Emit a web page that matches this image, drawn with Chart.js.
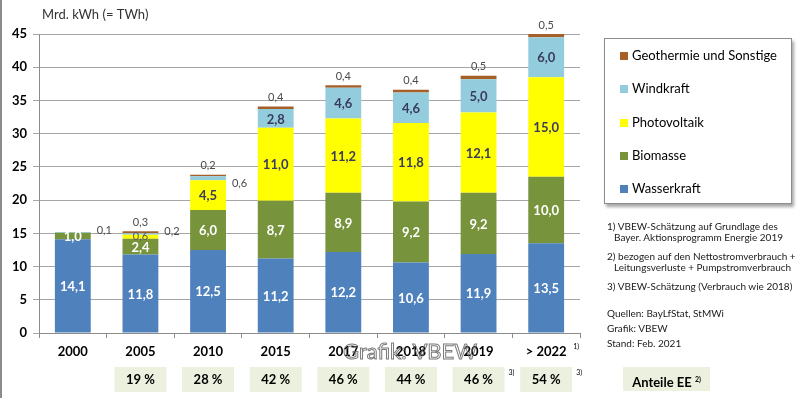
<!DOCTYPE html>
<html>
<head>
<meta charset="utf-8">
<script src="https://cdn.jsdelivr.net/npm/chart.js@4"></script>
<style>
  html, body { margin: 0; padding: 0; background: #fff; }
  body { width: 800px; height: 398px; position: relative; overflow: hidden; font-family: Lato, "Noto Sans", sans-serif; }
  #wrap { position: absolute; left: 0; top: 0; width: 800px; height: 398px; }
  #frame { position: absolute; left: 0; top: 0; width: 2px; height: 398px; background: #8c8c8c; }
  #legend { position: absolute; left: 604px; top: 38px; width: 186px; height: 164px; border: 1px solid #8c8c8c;
    box-shadow: 2px 3px 3px rgba(0,0,0,0.35); background: #fff; }
  #legend .item { position: absolute; left: 15px; font-size: 13px; color: #000; white-space: nowrap; }
  #legend .sw { display: inline-block; width: 8px; height: 8px; margin-right: 4px; vertical-align: 0px; }
  .note { position: absolute; left: 607px; font-size: 10px; color: #1a1a1a; white-space: nowrap; line-height: 12px; }
  .note.ind { left: 614px; }
  #ee { position: absolute; left: 623px; top: 367px; width: 87px; height: 24px; background: #ebf1de;
    font-weight: bold; font-size: 13px; line-height: 24px; text-align: center; }
  #ee sup { font-size: 7px; }
</style>
</head>
<body>
<div id="wrap"><canvas id="chart" width="800" height="398"></canvas></div>
<div id="frame"></div>
<div id="legend"></div>
<div class="note" style="top:220px">1) VBEW-Schätzung auf Grundlage des</div>
<div class="note ind" style="top:231px">Bayer. Aktionsprogramm Energie 2019</div>
<div class="note" style="top:250px">2) bezogen auf den Nettostromverbrauch +</div>
<div class="note ind" style="top:261px">Leitungsverluste + Pumpstromverbrauch</div>
<div class="note" style="top:280px">3) VBEW-Schätzung (Verbrauch wie 2018)</div>
<div class="note" style="top:307px">Quellen: BayLfStat, StMWi</div>
<div class="note" style="top:322px">Grafik: VBEW</div>
<div class="note" style="top:337px">Stand: Feb. 2021</div>
<div id="ee">Anteile EE <sup>2)</sup></div>
<script>
// data
const years = ['2000', '2005', '2010', '2015', '2017', '2018', '2019', '> 2022'];
const wasserkraft = [14.1, 11.8, 12.5, 11.2, 12.2, 10.6, 11.9, 13.5];
const biomasse = [1.0, 2.4, 6.0, 8.7, 8.9, 9.2, 9.2, 10.0];
const photovoltaik = [0, 0.6, 4.5, 11.0, 11.2, 11.8, 12.1, 15.0];
const windkraft = [0.1, 0.2, 0.6, 2.8, 4.6, 4.6, 5.0, 6.0];
const geothermie = [0, 0.3, 0.2, 0.4, 0.4, 0.4, 0.5, 0.5];
const anteileEE = [null, 19, 28, 42, 46, 44, 46, 54];
const eeNote = [null, null, null, null, null, null, '3)', '3)'];
const yTicks = [0, 5, 10, 15, 20, 25, 30, 35, 40, 45];

const series = [
  { label: 'Wasserkraft', data: wasserkraft, color: '#4f81bd', text: '#ffffff' },
  { label: 'Biomasse', data: biomasse, color: '#77933c', text: '#ffffff' },
  { label: 'Photovoltaik', data: photovoltaik, color: '#ffff00', text: '#3a3a5c' },
  { label: 'Windkraft', data: windkraft, color: '#93cddd', text: '#3a3a5c' },
  { label: 'Geothermie und Sonstige', data: geothermie, color: '#a5602a', text: '#595959' }
];

const fmt = v => v.toFixed(1).replace('.', ',');

// legend (top item = last series)
const leg = document.getElementById('legend');
series.slice().reverse().forEach((s, i) => {
  const d = document.createElement('div');
  d.className = 'item';
  d.style.top = (8 + i * 33.3) + 'px';
  d.innerHTML = `<span class="sw" style="background:${s.color}"></span>${s.label}`;
  leg.appendChild(d);
});

// value labels, EE boxes, watermark
const labelPlugin = {
  id: 'labels',
  afterDatasetsDraw(chart) {
    const ctx = chart.ctx;
    const x = chart.scales.x;
    ctx.save();
    ctx.textAlign = 'center';
    ctx.textBaseline = 'middle';
    chart.data.datasets.forEach((ds, di) => {
      const meta = chart.getDatasetMeta(di);
      meta.data.forEach((bar, i) => {
        const v = ds.data[i];
        if (!v) return;
        const h = Math.abs(bar.base - bar.y);
        const cx = bar.x, cy = (bar.y + bar.base) / 2;
        if (di === 4) {
          ctx.font = '11px Lato';
          ctx.fillStyle = '#4a4a4a';
          ctx.fillText(fmt(v), cx, bar.y - 9);
        } else if (di === 3 && h < 8) {
          ctx.font = '11px Lato';
          ctx.fillStyle = '#4a4a4a';
          ctx.textAlign = 'left';
          ctx.fillText(fmt(v), cx + bar.width / 2 + 6, bar.y - (i === 2 ? -7 : 2));
          ctx.textAlign = 'center';
        } else if (h < 5) {
          ctx.font = '11px Lato';
          ctx.fillStyle = '#595959';
          ctx.fillText(fmt(v), cx, cy);
        } else {
          ctx.font = 'bold 13px Lato';
          ctx.fillStyle = series[di].text;
          ctx.fillText(fmt(v), cx, cy + 1);
        }
      });
    });
    // EE share boxes below the axis
    anteileEE.forEach((p, i) => {
      if (p === null) return;
      const cx = x.getPixelForValue(i);
      ctx.fillStyle = '#ebf1de';
      ctx.fillRect(cx - 26, 367, 52, 25);
      ctx.fillStyle = '#000';
      ctx.font = 'bold 13px Lato';
      ctx.textAlign = 'center';
      ctx.fillText(p + ' %', cx, 380);
      if (eeNote[i]) {
        ctx.font = '7px Lato';
        ctx.textAlign = 'left';
        ctx.fillText(eeNote[i], cx + 30, 373);
      }
    });
    // superscript on last category
    ctx.font = '7px Lato';
    ctx.textAlign = 'left';
    ctx.fillStyle = '#000';
    ctx.fillText('1)', x.getPixelForValue(7) + 27, 347);
    // axis title
    ctx.font = '13px Lato';
    ctx.fillStyle = '#333';
    ctx.fillText('Mrd. kWh (= TWh)', 42, 15);
    // watermark
    ctx.font = '22px Lato';
    ctx.textAlign = 'center';
    ctx.strokeStyle = 'rgba(100,100,100,0.85)';
    ctx.lineWidth = 1;
    ctx.strokeText('Grafik: VBEW', 410, 352);
    ctx.restore();
  }
};

new Chart(document.getElementById('chart'), {
  type: 'bar',
  data: {
    labels: years,
    datasets: series.map(s => ({
      label: s.label,
      data: s.data,
      backgroundColor: s.color,
      borderWidth: 0,
      barPercentage: 1,
      categoryPercentage: 0.53
    }))
  },
  options: {
    responsive: false,
    animation: false,
    layout: { padding: { left: 0, right: 220, top: 34, bottom: 0 } },
    plugins: { legend: { display: false }, tooltip: { enabled: false } },
    scales: {
      x: {
        stacked: true,
        grid: { offset: true, drawOnChartArea: false, drawTicks: true, tickLength: 5, color: '#8c8c8c' },
        border: { color: '#8c8c8c' },
        ticks: { color: '#000', font: { family: 'Lato', size: 13, weight: 'bold' }, padding: 6 },
        afterFit(scale) { scale.height = 65; }
      },
      y: {
        stacked: true,
        min: 0,
        max: 45,
        afterBuildTicks(scale) { scale.ticks = yTicks.map(v => ({ value: v })); },
        grid: { color: '#a6a6a6', tickLength: 6 },
        border: { color: '#8c8c8c' },
        ticks: { color: '#000', font: { family: 'Lato', size: 13, weight: 'bold' }, padding: 6 },
        afterFit(scale) { scale.width = 39; }
      }
    }
  },
  plugins: [labelPlugin]
});
</script>
</body>
</html>
